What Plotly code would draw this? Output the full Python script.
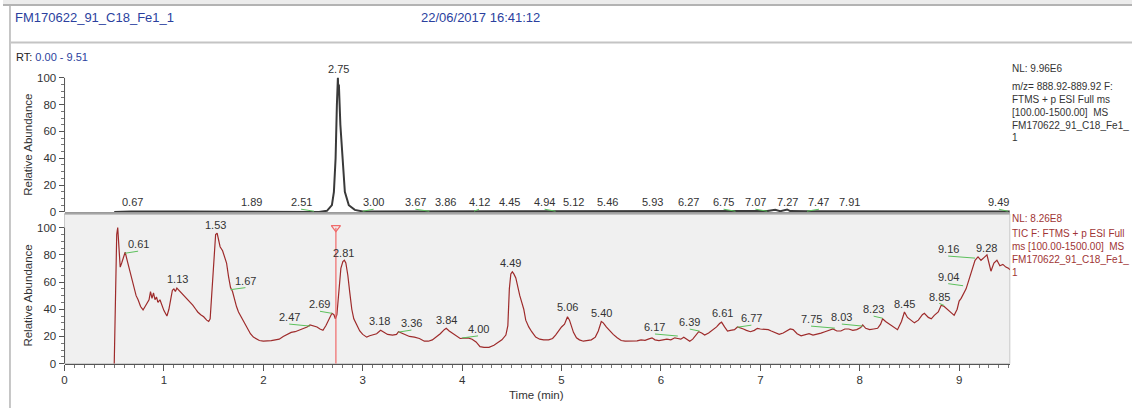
import plotly.graph_objects as go

# ---- data -------------------------------------------------------------
# Extracted ion chromatogram (m/z 888.92-889.92), relative abundance
XIC_T = [0.50, 0.67, 1.20, 1.89, 2.30, 2.51, 2.56, 2.64, 2.69, 2.71, 2.727, 2.74,
         2.75, 2.755, 2.76, 2.775, 2.794, 2.82, 2.86, 2.92, 3.00, 3.86, 4.45,
         5.50, 6.75, 7.07, 7.15, 7.20, 7.27, 7.30, 7.47, 8.50, 9.49, 9.51]
XIC_V = [0.0, 0.3, 0.2, 0.2, 0.3, 0.4, 0.0, 0.8, 5.0, 15.0, 40.0, 80.0,
         100.0, 88.0, 95.0, 65.0, 40.0, 15.0, 5.0, 1.5, 0.3, 0.3, 0.2,
         0.2, 0.4, 0.6, 1.5, 0.5, 1.8, 0.6, 0.4, 0.2, 0.4, 0.3]

# Total ion current, relative abundance
TIC_T = [0.500, 0.505, 0.515, 0.525, 0.535, 0.545, 0.560, 0.575, 0.590, 0.610,
         0.630, 0.650, 0.675, 0.700, 0.720, 0.740, 0.765, 0.790, 0.810, 0.830,
         0.850, 0.865, 0.880, 0.895, 0.910, 0.925, 0.940, 0.960, 0.980, 1.000,
         1.030, 1.050, 1.070, 1.085, 1.100, 1.115, 1.130, 1.150, 1.170, 1.190,
         1.210, 1.240, 1.260, 1.290, 1.320, 1.340, 1.370, 1.400, 1.430, 1.450,
         1.465, 1.480, 1.500, 1.520, 1.535, 1.550, 1.565, 1.590, 1.610, 1.630,
         1.650, 1.670, 1.690, 1.710, 1.730, 1.750, 1.780, 1.810, 1.840, 1.870,
         1.900, 1.930, 1.960, 2.000, 2.040, 2.080, 2.120, 2.160, 2.200, 2.240,
         2.280, 2.320, 2.360, 2.400, 2.440, 2.470, 2.500, 2.540, 2.570, 2.600,
         2.630, 2.660, 2.690, 2.710, 2.725, 2.740, 2.760, 2.780, 2.800, 2.815,
         2.830, 2.850, 2.870, 2.890, 2.910, 2.940, 2.970, 3.000, 3.040, 3.070,
         3.100, 3.140, 3.180, 3.210, 3.250, 3.300, 3.340, 3.360, 3.390, 3.430,
         3.470, 3.520, 3.570, 3.620, 3.660, 3.700, 3.740, 3.780, 3.820, 3.840,
         3.870, 3.900, 3.940, 3.980, 4.020, 4.060, 4.100, 4.140, 4.180, 4.220,
         4.270, 4.320, 4.360, 4.400, 4.440, 4.460, 4.475, 4.490, 4.505, 4.520,
         4.540, 4.560, 4.580, 4.600, 4.620, 4.640, 4.670, 4.700, 4.740, 4.780,
         4.820, 4.870, 4.910, 4.940, 4.970, 5.000, 5.030, 5.060, 5.080, 5.100,
         5.120, 5.150, 5.180, 5.220, 5.260, 5.300, 5.340, 5.370, 5.400, 5.420,
         5.450, 5.480, 5.520, 5.560, 5.600, 5.640, 5.680, 5.720, 5.760, 5.800,
         5.840, 5.880, 5.910, 5.940, 5.980, 6.020, 6.060, 6.100, 6.140, 6.170,
         6.200, 6.230, 6.260, 6.290, 6.320, 6.350, 6.380, 6.410, 6.440, 6.480,
         6.520, 6.560, 6.590, 6.610, 6.640, 6.670, 6.700, 6.740, 6.770, 6.800,
         6.830, 6.860, 6.900, 6.940, 6.970, 7.000, 7.040, 7.080, 7.110, 7.150,
         7.190, 7.230, 7.260, 7.300, 7.330, 7.370, 7.410, 7.450, 7.490, 7.530,
         7.570, 7.610, 7.650, 7.690, 7.730, 7.770, 7.810, 7.850, 7.890, 7.930,
         7.970, 8.010, 8.030, 8.060, 8.100, 8.140, 8.180, 8.210, 8.230, 8.260,
         8.300, 8.340, 8.380, 8.420, 8.450, 8.480, 8.510, 8.550, 8.590, 8.630,
         8.650, 8.690, 8.720, 8.750, 8.790, 8.820, 8.850, 8.880, 8.910, 8.950,
         8.980, 9.000, 9.020, 9.040, 9.070, 9.100, 9.130, 9.160, 9.190, 9.220,
         9.250, 9.280, 9.300, 9.320, 9.350, 9.380, 9.410, 9.440, 9.470, 9.500,
         9.510]
TIC_V = [0.0, 18.0, 60.0, 95.0, 100.0, 88.0, 71.0, 74.0, 77.0, 82.0,
         76.0, 70.0, 62.0, 55.0, 50.0, 47.0, 42.0, 39.5, 42.0, 45.0,
         47.0, 53.0, 48.0, 52.0, 47.0, 49.0, 45.0, 47.0, 43.0, 39.0,
         35.0, 40.0, 48.0, 54.0, 55.0, 53.0, 55.5, 54.0, 52.0, 51.0,
         49.0, 46.5, 45.0, 43.0, 40.0, 38.0, 36.0, 34.5, 32.0, 31.0,
         33.0, 50.0, 80.0, 95.0, 96.0, 92.0, 86.0, 83.0, 79.0, 74.0,
         64.0, 56.0, 53.0, 47.0, 42.0, 38.0, 34.0, 30.0, 26.0, 22.0,
         19.5, 18.0, 17.0, 16.5, 16.5, 17.0, 17.5, 18.0, 20.0, 21.5,
         23.0, 23.5, 24.5, 25.5, 27.0, 28.5, 28.0, 27.0, 25.5, 24.5,
         28.0, 33.0, 37.0, 36.0, 33.0, 36.0, 55.0, 70.0, 75.0, 76.0,
         74.0, 65.0, 52.0, 40.0, 33.0, 28.0, 24.0, 21.5, 19.5, 20.5,
         21.0, 22.0, 24.5, 23.0, 21.5, 21.0, 21.5, 23.5, 22.5, 21.0,
         20.0, 19.5, 18.5, 16.5, 16.5, 17.5, 19.5, 22.0, 25.0, 26.0,
         24.0, 22.5, 20.0, 18.5, 18.8, 19.0, 18.0, 16.0, 12.5, 12.0,
         12.0, 13.5, 15.5, 17.5, 21.0, 28.0, 55.0, 66.0, 67.5, 66.0,
         63.0, 56.0, 50.0, 45.0, 40.0, 32.0, 27.0, 23.5, 19.5, 18.0,
         17.5, 17.5, 18.5, 21.0, 24.5, 27.0, 29.0, 34.5, 32.0, 28.0,
         23.0, 19.0, 17.5, 16.5, 17.0, 17.5, 19.5, 24.0, 31.0, 30.0,
         27.0, 24.5, 21.5, 19.0, 17.0, 16.5, 16.5, 17.0, 16.8, 17.5,
         17.2, 18.2, 19.0, 17.5, 17.0, 17.5, 18.0, 17.5, 19.0, 18.5,
         18.0, 19.5, 18.0, 16.5, 18.0, 20.5, 23.5, 22.5, 21.0, 22.5,
         24.5, 27.0, 29.5, 30.5, 27.0, 24.0, 24.5, 25.0, 27.0, 26.5,
         25.5, 24.5, 23.5, 24.5, 26.0, 25.5, 25.5, 25.0, 24.0, 22.5,
         21.5, 22.5, 24.0, 25.5, 25.0, 22.0, 20.5, 21.5, 22.0, 21.0,
         21.5, 22.5, 23.5, 24.5, 25.5, 24.0, 24.0, 25.5, 25.5, 24.5,
         25.0, 26.5, 28.5, 26.0, 25.0, 25.5, 26.0, 29.0, 33.0, 31.0,
         29.0, 27.0, 25.0, 31.0, 38.0, 34.0, 32.0, 30.0, 32.0, 36.0,
         37.0, 34.0, 33.0, 35.5, 38.0, 43.0, 42.0, 40.0, 38.5, 35.5,
         40.0, 46.0, 48.0, 50.5, 55.0, 62.0, 70.0, 76.0, 78.5, 76.0,
         78.0, 80.0, 74.0, 68.0, 74.0, 76.0, 72.0, 73.0, 71.0, 70.0,
         69.0]

# Peak labels on the XIC: retention time, label position (time, level)
XIC_RT = ["0.67", "1.89", "2.51", "2.75", "3.00", "3.67", "3.86", "4.12", "4.45", "4.94",
          "5.12", "5.46", "5.93", "6.27", "6.75", "7.07", "7.27", "7.47", "7.91", "9.49"]
XIC_LBL_T = [0.68, 1.88, 2.38, 2.76, 3.11, 3.53, 3.83, 4.17, 4.48, 4.83,
             5.12, 5.46, 5.92, 6.28, 6.63, 6.95, 7.27, 7.59, 7.90, 9.40]
XIC_LBL_V = [7.0] * 3 + [106.5] + [7.0] * 16

# Peak labels on the TIC
TIC_RT = ["0.61", "1.13", "1.53", "1.67", "2.47", "2.69", "2.81", "3.18", "3.36", "3.84",
          "4.00", "4.49", "5.06", "5.40", "6.17", "6.39", "6.61", "6.77", "7.75", "8.03",
          "8.23", "8.45", "8.85", "9.04", "9.16", "9.28"]
TIC_LBL_T = [0.74, 1.14, 1.52, 1.82, 2.26, 2.57, 2.81, 3.17, 3.49, 3.84,
             4.16, 4.49, 5.06, 5.40, 5.94, 6.29, 6.62, 6.91, 7.51, 7.82,
             8.14, 8.45, 8.80, 8.89, 8.89, 9.28]
TIC_LBL_V = [87.7, 62.3, 102.2, 60.9, 34.1, 43.5, 81.2, 31.2, 29.7, 31.9,
             25.4, 73.9, 41.3, 37.0, 26.8, 30.4, 37.0, 33.3, 32.6, 34.1,
             39.9, 44.2, 49.3, 63.8, 84.1, 84.8]

CURSOR_RT = 2.73
RT_RANGE = (0.00, 9.51)

XIC_INFO = ["NL: 9.96E6", "m/z= 888.92-889.92 F:", "FTMS + p ESI Full ms",
            "[100.00-1500.00]  MS", "FM170622_91_C18_Fe1_", "1"]
TIC_INFO = ["NL: 8.26E8", "TIC F: FTMS + p ESI Full", "ms [100.00-1500.00]  MS",
            "FM170622_91_C18_Fe1_", "1"]

FILE_NAME = "FM170622_91_C18_Fe1_1"
ACQ_DATE = "22/06/2017 16:41:12"

# ---- page geometry (pixels) -------------------------------------------
W, H = 1132, 414
FONT = "Liberation Sans, Arial, sans-serif"
BLUE = "#2b3f9e"
DARKRED = "#a03434"
GREEN = "#5cc05c"
TXT = "#333333"


def fx(x):
    return x / W


def fy(y):
    return 1 - y / H


X_L, X_R = 61.7, 1009.5
BOT_Y0, BOT_TOP, BOT_UNIT = 369.0, 217.0, 1.38
TOP_Y0, TOP_TOP, TOP_UNIT = 215.0, 65.0, 1.36

fig = go.Figure()

# XIC (top panel)
fig.add_trace(go.Scatter(x=XIC_T, y=XIC_V, xaxis="x2", yaxis="y2", mode="lines",
                         line=dict(color="#3a3a3a", width=2), hoverinfo="skip"))
# TIC (bottom panel)
fig.add_trace(go.Scatter(x=TIC_T, y=TIC_V, xaxis="x", yaxis="y", mode="lines",
                         line=dict(color="#9e2b2b", width=1.2), hoverinfo="skip"))
# RT cursor
fig.add_trace(go.Scatter(x=[CURSOR_RT, CURSOR_RT], y=[0, 100], xaxis="x", yaxis="y",
                         mode="lines", line=dict(color="#f06a6a", width=1.2),
                         hoverinfo="skip"))
fig.add_trace(go.Scatter(x=[CURSOR_RT], y=[100], xaxis="x", yaxis="y", mode="markers",
                         marker=dict(symbol="triangle-down-open", size=8,
                                     color="#f06a6a", line=dict(width=1.2)),
                         hoverinfo="skip"))

annotations = []
shapes = []


def peak_labels(rts, lt, lv, xref, yref):
    for rt, t, v in zip(rts, lt, lv):
        annotations.append(dict(x=t, y=v, xref=xref, yref=yref, text=rt,
                                showarrow=False, font=dict(family=FONT, size=11, color=TXT),
                                xanchor="center", yanchor="middle"))
        if abs(float(rt) - t) > 0.04:
            shapes.append(dict(type="line", xref=xref, yref=yref,
                               x0=t, y0=v - 5.0, x1=float(rt), y1=v - 6.5,
                               line=dict(color=GREEN, width=1)))


peak_labels(XIC_RT, XIC_LBL_T, XIC_LBL_V, "x2", "y2")
peak_labels(TIC_RT, TIC_LBL_T, TIC_LBL_V, "x", "y")

# scan-info text blocks
for i, s in enumerate(XIC_INFO):
    y = 70 + (0 if i == 0 else 5 + 13 * i)
    annotations.append(dict(x=fx(1010), y=fy(y), xref="paper", yref="paper", text=s,
                            showarrow=False, xanchor="left", yanchor="middle",
                            font=dict(family=FONT, size=10, color=TXT)))
for i, s in enumerate(TIC_INFO):
    y = 222 + (0 if i == 0 else 2 + 13.2 * i)
    annotations.append(dict(x=fx(1010), y=fy(y), xref="paper", yref="paper", text=s,
                            showarrow=False, xanchor="left", yanchor="middle",
                            font=dict(family=FONT, size=10, color=DARKRED)))

# header
annotations += [
    dict(x=fx(10), y=fy(18), xref="paper", yref="paper", text=FILE_NAME, showarrow=False,
         xanchor="left", yanchor="middle", font=dict(family=FONT, size=13, color=BLUE)),
    dict(x=fx(417), y=fy(18), xref="paper", yref="paper", text=ACQ_DATE, showarrow=False,
         xanchor="left", yanchor="middle", font=dict(family=FONT, size=13, color=BLUE)),
    dict(x=fx(11), y=fy(58), xref="paper", yref="paper",
         text="RT: <span style='color:%s'>%.2f - %.2f</span>" % (BLUE, *RT_RANGE),
         showarrow=False, xanchor="left", yanchor="middle",
         font=dict(family=FONT, size=11, color="#222222")),
    dict(x=fx(535), y=fy(401), xref="paper", yref="paper", text="Time (min)",
         showarrow=False, xanchor="center", yanchor="middle",
         font=dict(family=FONT, size=11.5, color=TXT)),
]
for yc in ((79 + 215) / 2, (231 + 369) / 2):
    annotations.append(dict(x=fx(25), y=fy(yc), xref="paper", yref="paper",
                            text="Relative Abundance", textangle=-90, showarrow=False,
                            xanchor="center", yanchor="middle",
                            font=dict(family=FONT, size=11.5, color=TXT)))

# frame and panel decoration
shapes += [
    dict(type="rect", xref="paper", yref="paper", x0=0, x1=1, y0=fy(4), y1=1,
         fillcolor="#ececec", line=dict(width=0), layer="below"),
    dict(type="line", xref="paper", yref="paper", x0=0, x1=1, y0=fy(5), y1=fy(5),
         line=dict(color="#9a9a9a", width=1.5)),
    dict(type="line", xref="paper", yref="paper", x0=fx(8), x1=1, y0=fy(43), y1=fy(43),
         line=dict(color="#c4c4c4", width=2)),
    dict(type="line", xref="paper", yref="paper", x0=fx(7), x1=fx(7), y0=fy(5), y1=0,
         line=dict(color="#b4b4b4", width=1.5)),
    dict(type="rect", xref="paper", yref="paper", x0=fx(X_L), x1=fx(X_R),
         y0=fy(BOT_Y0), y1=fy(BOT_TOP), fillcolor="#f0f0f0",
         line=dict(color="#c8c8c8", width=1), layer="below"),
    dict(type="line", xref="paper", yref="paper", x0=fx(X_L), x1=fx(X_R),
         y0=fy(BOT_TOP), y1=fy(BOT_TOP), line=dict(color="#8a8a8a", width=1)),
    # y-axis lines up to 100 %
    dict(type="line", xref="paper", yref="y", x0=fx(X_L), x1=fx(X_L), y0=0, y1=100,
         line=dict(color="#555555", width=1)),
    dict(type="line", xref="paper", yref="y2", x0=fx(X_L), x1=fx(X_L), y0=0, y1=100,
         line=dict(color="#555555", width=1)),
]

yticks_minor = [v for v in range(0, 101, 5)]
yaxis_common = dict(tickmode="array", tickvals=[0, 20, 40, 60, 80, 100],
                    ticks="outside", ticklen=5, tickcolor="#555555",
                    tickfont=dict(family=FONT, size=11.5, color=TXT),
                    showgrid=False, zeroline=False, showline=False, fixedrange=True,
                    minor=dict(tickmode="array", tickvals=yticks_minor, ticks="outside",
                               ticklen=3, tickcolor="#777777", showgrid=False))

fig.update_layout(
    width=W, height=H, margin=dict(l=0, r=0, t=0, b=0),
    paper_bgcolor="white", plot_bgcolor="rgba(0,0,0,0)",
    showlegend=False, hovermode=False,
    font=dict(family=FONT, color=TXT),
    xaxis=dict(domain=[fx(X_L), fx(X_R)], range=list(RT_RANGE), anchor="y",
               tickmode="linear", tick0=0, dtick=1, ticks="outside", ticklen=6,
               tickcolor="#555555", showline=True, linecolor="#555555", linewidth=1,
               tickfont=dict(family=FONT, size=11.5, color=TXT),
               showgrid=False, zeroline=False, fixedrange=True,
               minor=dict(dtick=0.1, tick0=0, ticks="outside", ticklen=3,
                          tickcolor="#777777", showgrid=False)),
    xaxis2=dict(domain=[fx(X_L), fx(X_R)], range=list(RT_RANGE), anchor="y2",
                matches="x", showticklabels=False, ticks="", showline=True,
                linecolor="#9a9a9a", linewidth=1, showgrid=False, zeroline=False,
                fixedrange=True),
    yaxis=dict(domain=[fy(BOT_Y0), fy(BOT_TOP)],
               range=[0, (BOT_Y0 - BOT_TOP) / BOT_UNIT], anchor="x", **yaxis_common),
    yaxis2=dict(domain=[fy(TOP_Y0), fy(TOP_TOP)],
                range=[0, (TOP_Y0 - TOP_TOP) / TOP_UNIT], anchor="x2", **yaxis_common),
    annotations=annotations,
    shapes=shapes,
)

fig.write_html("out.html")
